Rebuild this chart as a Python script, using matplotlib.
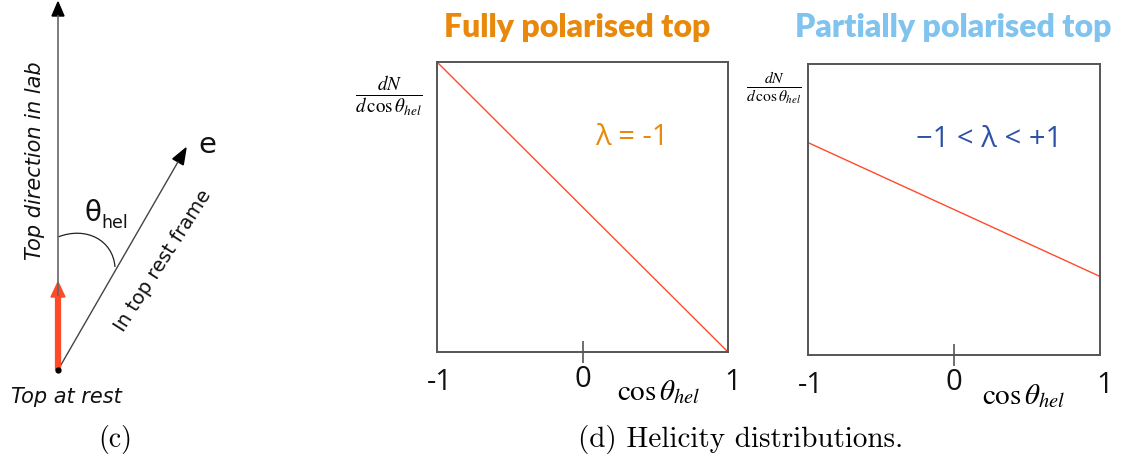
import numpy as np
import matplotlib
matplotlib.use("Agg")
import matplotlib.pyplot as plt
from matplotlib.path import Path
from matplotlib.patches import PathPatch

plt.rcParams['mathtext.fontset'] = 'stix'

W, H = 1121, 466

# distribuicoes de helicidade: dN/dcos(theta) em cos = -1 e cos = +1
cos_pontos = [-1, 1]
dist_total = [1.0, 0.0]     # lambda = -1
dist_parcial = [0.73, 0.27]  # -1 < lambda < +1

# rotulos do eixo x
rotulos_x = ["-1", "0", "1"]
valores_x = [-1, 0, 1]

laranja = "#e8890c"
azul_claro = "#80c3ee"
azul_escuro = "#2d52a3"
vermelho = "#ff4a2a"
cinza = "#555555"

fig = plt.figure(figsize=(W / 100, H / 100), dpi=100)

# camada em pixels para o diagrama e os textos soltos
lay = fig.add_axes([0, 0, 1, 1])
lay.set_xlim(0, W)
lay.set_ylim(H, 0)
lay.axis("off")

# diagrama (c): direcao do top e do eletron
ox, oy = 58, 370
lay.plot([ox, ox], [oy, 16], color="#666666", lw=1.2)
lay.fill([ox - 6, ox + 6, ox], [16, 16, 2], color="black")
ang = np.deg2rad(60.0)
ex, ey = 186, 148
bx, by = ex - 16 * np.cos(ang), ey + 16 * np.sin(ang)
lay.plot([ox, bx], [oy, by], color="#444444", lw=1.0)
px, py = -np.sin(ang), -np.cos(ang)
lay.fill([bx + 6 * px, bx - 6 * px, ex], [by + 6 * py, by - 6 * py, ey], color="black")
# seta vermelha do spin
lay.plot([ox, ox], [oy, 296], color=vermelho, lw=4.5, solid_capstyle="butt")
lay.fill([ox - 7, ox + 7, ox], [297, 297, 282], color=vermelho)
lay.plot([ox], [oy], "o", color="black", ms=3.5)
# arco do angulo
arco = Path([(58, 237), (86, 226), (113, 240), (115, 267)],
            [Path.MOVETO, Path.CURVE4, Path.CURVE4, Path.CURVE4])
lay.add_patch(PathPatch(arco, fill=False, color="#222222", lw=0.9))

lay.text(35, 161, "Top direction in lab", rotation=90, style="italic",
         ha="center", va="center", fontsize=15, color="#111111", family="DejaVu Sans")
lay.text(163, 261, "In top rest frame", rotation=57.5, ha="center", va="center",
         fontsize=14, color="#111111", family="DejaVu Sans", rotation_mode="anchor")
lay.text(207, 145, "e", ha="center", va="center", fontsize=21, color="#111111")
lay.text(93, 213, "θ", ha="center", va="center", fontsize=20, color="#111111",
         family="DejaVu Sans")
lay.text(101, 223, "hel", ha="left", va="center", fontsize=12.5, color="#111111",
         family="DejaVu Sans")
lay.text(66, 397, "Top at rest", style="italic", ha="center", va="center",
         fontsize=15, color="#111111", family="DejaVu Sans")
lay.text(115, 440, "(c)", ha="center", va="center", fontsize=20, family="cmr10")
lay.text(741, 440, "(d) Helicity distributions.", ha="center", va="center",
         fontsize=21, family="cmr10")


def painel(rect, dist, titulo, x_titulo, cor_titulo, texto, cor_texto, xy_texto, x_cos):
    l, t, r, b = rect
    ax = fig.add_axes([l / W, 1 - b / H, (r - l) / W, (b - t) / H])
    ax.plot(cos_pontos, dist, color=vermelho, lw=1.0)
    ax.set_xlim(-1, 1)
    ax.set_ylim(0, 1)
    ax.set_yticks([])
    ax.set_xticks([0])
    ax.set_xticklabels([])
    ax.tick_params(axis="x", direction="inout", length=16, width=1.2, color=cinza)
    for s in ax.spines.values():
        s.set_color(cinza)
        s.set_linewidth(1.4)
    for v, rot in zip(valores_x, rotulos_x):
        dy = -0.105 if v != 0 else -0.095
        ax.text(v + (0.03 if v == 1 else 0.0) + (0.02 if v == -1 else 0.0), dy, rot,
                transform=ax.get_xaxis_transform(), ha="center", va="center",
                fontsize=21, family="Open Sans", color="#111111")
    ax.text(x_cos, -0.14, r"$\cos\theta_{hel}$", transform=ax.transAxes,
            ha="center", va="center", fontsize=21)
    ax.text(xy_texto[0], xy_texto[1], texto, transform=ax.transAxes, ha="center",
            va="center", fontsize=21, color=cor_texto, family="Open Sans")
    lay.text(x_titulo, 28, titulo, ha="center", va="center", fontsize=23,
             fontweight="heavy", color=cor_titulo, family="Lato")
    return ax


painel((437, 62, 728, 352), dist_total, "Fully polarised top", 577, laranja,
       "λ = -1", laranja, (0.67, 0.74), 0.76)
painel((808, 64, 1100, 355), dist_parcial, "Partially polarised top", 953, azul_claro,
       "−1 < λ < +1", azul_escuro, (0.62, 0.74), 0.74)

lay.text(389, 96, r"$\frac{dN}{d\,\cos\theta_{hel}}$", ha="center", va="center", fontsize=19.5)
lay.text(774, 88, r"$\frac{dN}{d\,\cos\theta_{hel}}$", ha="center", va="center", fontsize=16)

fig.savefig("out.png", dpi=100)
